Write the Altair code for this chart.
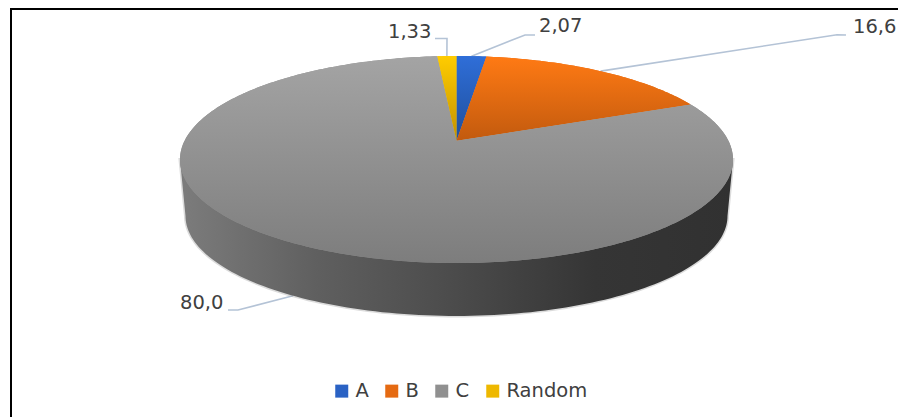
import math
import altair as alt

# Shares of each group, in drawing order clockwise from twelve o'clock
categories = ["A", "B", "C", "Random"]
shares = [2.07, 16.6, 80.0, 1.33]
value_labels = ["2,07", "16,6", "80,0", "1,33"]
legend_colors = ["#2a62c4", "#e56a12", "#909090", "#eeb800"]

# Vertical gradient of each slice's top face: light edge, dark edge
face_stops = {
    "A": ("#2f6ed8", "#1f4f9c"),
    "B": ("#ff7a14", "#c25a0e"),
    "C": ("#a4a4a4", "#7d7d7d"),
    "Random": ("#ffcc00", "#c29200"),
}

# Disc seen in perspective, in page pixels
CX, APEX_Y, A, B, K = 456.5, 140.7, 271.9, 100.1, 0.1816
# Lower rim of the disc
LOW_Y, LOW_A, LOW_B = 197.8, 266.5, 96.7

# Label anchor and elbow of each leader, per category
label_xy = [(539, 26), (853, 27), (180, 303), (388, 32)]
elbows = [[(525, 35), (535, 35)], [(837, 34.7), (846, 35)],
          [(238, 310), (228, 310)], [(447, 38.5), (435, 38.5)]]

TOTAL = sum(shares)


def rim(frac, y0=APEX_Y, a=A, b=B):
    t = 2 * math.pi * frac
    d = 1 + K * math.cos(t)
    return (CX + a * math.sin(t) / d, y0 - b * math.cos(t) / d)


def polygon(points, **props):
    ring = [list(p) for p in points] + [list(points[0])]
    return {"type": "Feature", "properties": props,
            "geometry": {"type": "Polygon", "coordinates": [ring]}}


# Slice outlines and their mid-arc points, from the share values
slices, mids = [], []
start = 0.0
for cat, val in zip(categories, shares):
    end = start + val / TOTAL
    n = max(8, int(val * 4))
    arc = [rim(start + (end - start) * i / n) for i in range(n + 1)]
    slices.append(polygon([(CX, APEX_Y)] + arc, category=cat))
    mids.append((start + end) / 2)
    start = end

# Side wall: lower rim across the front, closed along the top rim's widest points
side = math.acos(-K) / (2 * math.pi)
front = [rim(side + (1 - 2 * side) * i / 120, LOW_Y, LOW_A, LOW_B) for i in range(121)]
wall = polygon([rim(side)] + front + [rim(1 - side)], category="wall")

projection = alt.Projection(type="identity", scale=1, translate=[0, 0])

# Leader lines, from each slice's rim to its label
leader_rows = []
for cat, mid, elbow in zip(categories, mids, elbows):
    if cat == "C":
        anchor = rim(mid, LOW_Y, LOW_A, LOW_B)
    else:
        anchor = rim(mid)
    for i, (x, y) in enumerate([anchor] + elbow):
        leader_rows.append({"cat": cat, "seq": i, "x": x, "y": y})
leaders = alt.Chart(alt.Data(values=leader_rows)).mark_line(
    color="#b4c3d6", strokeWidth=1.6
).encode(
    longitude="x:Q", latitude="y:Q", detail="cat:N", order="seq:Q"
)

# Soft shadow hugging the wall, then the wall itself
shadow = alt.Chart(alt.Data(values=[wall])).mark_geoshape(
    fill="#999999", stroke="#999999", strokeWidth=3, opacity=0.35
)
wall_layer = alt.Chart(alt.Data(values=[wall])).mark_geoshape(
    strokeWidth=0,
    fill=alt.Gradient(
        gradient="linear", x1=0, x2=1, y1=0, y2=0,
        stops=[
            alt.GradientStop(offset=0, color="#7c7c7c"),
            alt.GradientStop(offset=0.25, color="#5f5f5f"),
            alt.GradientStop(offset=0.5, color="#4b4b4b"),
            alt.GradientStop(offset=0.75, color="#353535"),
            alt.GradientStop(offset=1, color="#313131"),
        ],
    ),
)

# Flat slices carry the legend; gradient faces sit on top of them
flat = alt.Chart(alt.Data(values=slices)).mark_geoshape(strokeWidth=0).encode(
    color=alt.Color(
        "properties.category:N",
        scale=alt.Scale(domain=categories, range=legend_colors),
        legend=alt.Legend(
            title=None, orient="none", direction="horizontal", columns=4,
            legendX=332, legendY=381,
            symbolType="square", symbolSize=169, symbolStrokeWidth=0,
            labelFont="DejaVu Sans", labelFontSize=19.5, labelColor="#404040",
            labelOffset=4, columnPadding=13, symbolOpacity=1,
        ),
    )
)
faces = [
    alt.Chart(alt.Data(values=[s])).mark_geoshape(
        strokeWidth=0,
        fill=alt.Gradient(
            gradient="linear", x1=0, x2=0, y1=0, y2=1,
            stops=[
                alt.GradientStop(offset=0, color=face_stops[s["properties"]["category"]][0]),
                alt.GradientStop(offset=1, color=face_stops[s["properties"]["category"]][1]),
            ],
        ),
    )
    for s in slices
]

labels = alt.Chart(alt.Data(values=[
    {"label": t, "x": xy[0], "y": xy[1]} for t, xy in zip(value_labels, label_xy)
])).mark_text(
    align="left", baseline="middle", font="DejaVu Sans", fontSize=19.5, color="#404040"
).encode(longitude="x:Q", latitude="y:Q", text="label:N")

# Frame along the top and left edges
frame_corners = [(898, 9), (11, 9), (11, 417)]
frame = alt.Chart(alt.Data(values=[
    {"seq": i, "x": x, "y": y} for i, (x, y) in enumerate(frame_corners)
])).mark_line(color="#000000", strokeWidth=2).encode(
    longitude="x:Q", latitude="y:Q", order="seq:Q"
)

chart = alt.layer(
    frame, leaders, shadow, wall_layer, flat, *faces, labels, projection=projection
).properties(
    width=898, height=417, padding=0, autosize=alt.AutoSizeParams(type="none"),
    background="#ffffff",
).configure_view(stroke=None)

chart.save("out.html", embed_options={"renderer": "svg", "actions": False})
